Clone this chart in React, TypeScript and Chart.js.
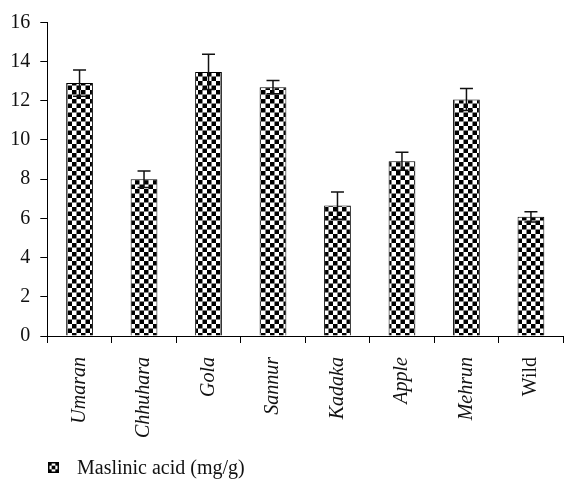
import React, { useEffect, useRef } from "react";
import { Chart, registerables } from "chart.js";

Chart.register(...registerables);

const categories = ["Umaran", "Chhuhara", "Gola", "Sannur", "Kadaka", "Apple", "Mehrun", "Wild"];
const values = [12.9, 8.0, 13.47, 12.69, 6.65, 8.91, 12.06, 6.08];
const errors = [0.67, 0.42, 0.9, 0.34, 0.7, 0.46, 0.56, 0.26];
const uprightLabels = ["Wild"];
const seriesLabel = "Maslinic acid (mg/g)";
const yTicks = { min: 0, max: 16, step: 2 };

const FONT = '"Liberation Serif", "DejaVu Serif", serif';

function makePattern(cell: number): CanvasPattern | string {
  const size = Math.ceil(cell * 2);
  const c = document.createElement("canvas");
  c.width = size;
  c.height = size;
  const g = c.getContext("2d");
  if (!g) return "#000";
  g.fillStyle = "#fff";
  g.fillRect(0, 0, size, size);
  g.fillStyle = "#000";
  g.fillRect(0, 0, cell, cell);
  g.fillRect(cell, cell, cell, cell);
  const p = g.createPattern(c, "repeat");
  return p || "#000";
}

export default function App() {
  const ref = useRef<HTMLCanvasElement | null>(null);

  useEffect(() => {
    const canvas = ref.current;
    if (!canvas) return;
    let chart: Chart | null = null;
    let cancelled = false;
    const pattern = makePattern(4.5);

    const errorBars = {
      id: "errorBars",
      afterDatasetsDraw(ch: any) {
        const ctx = ch.ctx;
        const meta = ch.getDatasetMeta(0);
        const y = ch.scales.y;
        ctx.save();
        ctx.strokeStyle = "#111";
        ctx.lineWidth = 1.5;
        meta.data.forEach((bar: any, i: number) => {
          const x = bar.x;
          const yTop = y.getPixelForValue(values[i] + errors[i]);
          const yBot = y.getPixelForValue(values[i] - errors[i]);
          ctx.beginPath();
          ctx.moveTo(x, yTop);
          ctx.lineTo(x, yBot);
          ctx.moveTo(x - 6.5, yTop);
          ctx.lineTo(x + 6.5, yTop);
          ctx.moveTo(x - 6.5, yBot);
          ctx.lineTo(x + 6.5, yBot);
          ctx.stroke();
        });
        ctx.restore();
      },
    };

    const customLegend = {
      id: "customLegend",
      afterDraw(ch: any) {
        const ctx = ch.ctx;
        ctx.save();
        // legend swatch: small 3x3 checker with black frame
        const bx = 48, by = 462, bs = 11, cs = bs / 3;
        ctx.fillStyle = "#fff";
        ctx.fillRect(bx, by, bs, bs);
        ctx.fillStyle = "#000";
        for (let r = 0; r < 3; r++) {
          for (let c = 0; c < 3; c++) {
            if ((r + c) % 2 === 0) ctx.fillRect(bx + c * cs, by + r * cs, cs, cs);
          }
        }
        ctx.strokeStyle = "#000";
        ctx.lineWidth = 1.5;
        ctx.strokeRect(bx + 0.75, by + 0.75, bs - 1.5, bs - 1.5);
        ctx.fillStyle = "#111";
        ctx.font = `20px ${FONT}`;
        ctx.textAlign = "left";
        ctx.textBaseline = "alphabetic";
        ctx.fillText(ch.data.datasets[0].label, 77, 474);
        ctx.restore();
      },
    };

    const build = () => {
      if (cancelled) return;
      chart = new Chart(canvas, {
        type: "bar",
        data: {
          labels: categories,
          datasets: [
            {
              label: seriesLabel,
              data: values,
              backgroundColor: pattern as any,
              borderColor: "#000",
              borderWidth: 1,
              barPercentage: 0.415,
              categoryPercentage: 1,
            },
          ],
        },
        options: {
          responsive: false,
          animation: false,
          layout: { padding: { top: 22.3, right: 1, left: 0, bottom: 0 } },
          plugins: {
            legend: { display: false },
            tooltip: { enabled: false },
          },
          scales: {
            x: {
              afterFit(scale: any) {
                scale.height = 144;
              },
              grid: {
                display: true,
                drawOnChartArea: false,
                drawTicks: true,
                tickLength: 7,
                color: "#000",
                lineWidth: 1,
              },
              border: { display: true, color: "#000", width: 1 },
              ticks: {
                minRotation: 90,
                maxRotation: 90,
                padding: 14,
                color: "#111",
                font: (c: any) => {
                  const lbl = categories[c.index];
                  return {
                    family: FONT,
                    size: 20,
                    style: uprightLabels.includes(lbl) ? "normal" : "italic",
                  } as any;
                },
              },
            },
            y: {
              min: yTicks.min,
              max: yTicks.max,
              afterFit(scale: any) {
                scale.width = 47.3;
              },
              grid: {
                display: true,
                drawOnChartArea: false,
                drawTicks: true,
                tickLength: 7,
                color: "#000",
                lineWidth: 1,
              },
              border: { display: true, color: "#000", width: 1 },
              ticks: {
                stepSize: yTicks.step,
                padding: 10,
                color: "#111",
                font: { family: FONT, size: 20 },
              },
            },
          },
        },
        plugins: [errorBars, customLegend],
      });
    };

    const fontsApi = (document as any).fonts;
    if (fontsApi && fontsApi.load) {
      Promise.all([
        fontsApi.load('20px "Liberation Serif"'),
        fontsApi.load('italic 20px "Liberation Serif"'),
      ])
        .catch(() => null)
        .then(() => build());
    } else {
      build();
    }

    return () => {
      cancelled = true;
      if (chart) chart.destroy();
    };
  }, []);

  return (
    <div style={{ position: "absolute", left: 0, top: 0, width: 569, height: 480, background: "#fff" }}>
      <span style={{ position: "absolute", left: -1000, fontFamily: "Liberation Serif", fontSize: 20 }}>
        Aa <i>Aa</i>
      </span>
      <canvas ref={ref} width={569} height={480} style={{ display: "block" }} />
    </div>
  );
}
